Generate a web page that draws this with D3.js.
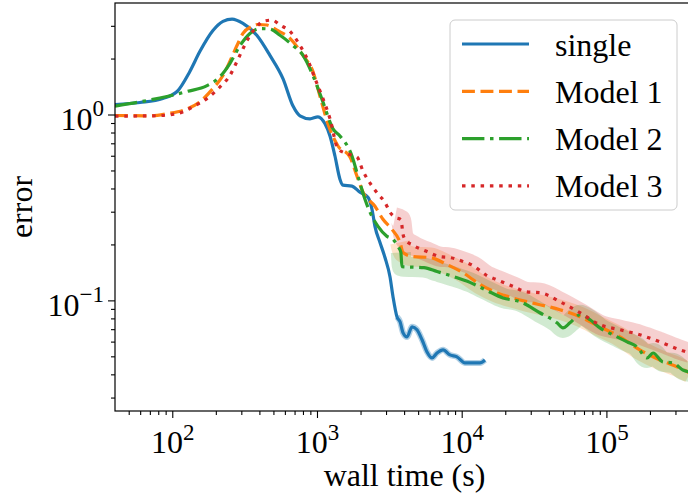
<!DOCTYPE html>
<html>
<head>
<meta charset="utf-8">
<script src="https://cdn.jsdelivr.net/npm/d3@7"></script>
<style>
body { margin: 0; background: #fff; }
text { font-family: "Liberation Serif", "DejaVu Serif", serif; }
</style>
</head>
<body>
<script>
// values (wall time in s, error)
var singleTime = [40.2, 59.8, 86, 108, 132, 155, 191, 224, 259, 308, 385, 473, 582, 683, 763, 895, 1016, 1136, 1230, 1331, 1441, 1512, 1745, 1980, 2250, 2400, 2515, 2725, 2950, 3195, 3350, 3570, 3750, 3935, 4190, 4540, 4910, 5320, 5760, 6240, 6750, 7430, 8300, 9270, 10520, 11960, 13370, 14480];
var singleErr = [1.13, 1.16, 1.22, 1.33, 1.70, 2.18, 2.83, 3.17, 3.26, 3.09, 2.66, 2.08, 1.56, 1.11, 0.984, 0.948, 0.972, 0.891, 0.767, 0.598, 0.449, 0.417, 0.412, 0.382, 0.359, 0.309, 0.250, 0.205, 0.170, 0.134, 0.105, 0.0816, 0.0767, 0.0669, 0.0636, 0.0721, 0.0695, 0.0614, 0.0528, 0.0490, 0.0521, 0.0542, 0.0509, 0.0497, 0.0461, 0.0461, 0.0461, 0.0478];

var model1Time = [40.2, 70.2, 91.9, 126, 155, 191, 224, 250, 280, 308, 356, 391, 451, 529, 651, 801, 938, 1050, 1191, 1397, 1690, 1888, 2080, 2515, 2857, 3296, 3750, 3935, 4615, 6045, 7900, 10190, 13370, 17500, 22640, 28200, 34660, 47700, 65700, 90200, 124000, 170000, 234000, 322000, 378000];
var model1Err = [0.988, 0.984, 1.01, 1.07, 1.17, 1.38, 1.62, 1.93, 2.35, 2.73, 2.98, 3.05, 3.03, 2.84, 2.57, 2.08, 1.70, 1.25, 0.89, 0.677, 0.591, 0.467, 0.382, 0.321, 0.273, 0.241, 0.205, 0.181, 0.172, 0.170, 0.156, 0.141, 0.122, 0.110, 0.103, 0.0984, 0.0948, 0.0891, 0.0816, 0.0721, 0.0637, 0.0542, 0.0478, 0.0433, 0.0406];

var model2Time = [40.2, 59.8, 91.9, 126, 174, 214, 250, 294, 344, 403, 473, 555, 683, 801, 938, 1099, 1290, 1441, 1745, 1918, 2146, 2324, 2640, 3045, 3350, 3630, 3800, 3865, 5480, 6750, 8850, 11400, 14950, 19300, 25300, 34660, 45600, 50100, 56000, 65700, 77100, 90200, 111000, 139000, 163000, 191000, 210000, 246000, 288000, 338000, 378000];
var model2Err = [1.11, 1.17, 1.25, 1.33, 1.43, 1.60, 1.88, 2.35, 2.73, 2.90, 2.88, 2.67, 2.35, 2.08, 1.62, 1.17, 0.837, 0.767, 0.598, 0.467, 0.350, 0.298, 0.250, 0.221, 0.213, 0.195, 0.181, 0.152, 0.150, 0.143, 0.134, 0.125, 0.113, 0.103, 0.0984, 0.0858, 0.0757, 0.0711, 0.0757, 0.0837, 0.0787, 0.0711, 0.0653, 0.0598, 0.0562, 0.0490, 0.0521, 0.0466, 0.0461, 0.0422, 0.0412];

var model3Time = [40.2, 73.6, 108, 139, 174, 214, 250, 280, 308, 344, 385, 423, 489, 555, 651, 763, 867, 969, 1081, 1230, 1397, 1640, 1888, 2080, 2400, 2640, 2950, 3195, 3460, 3800, 3935, 4065, 4615, 5760, 7080, 8300, 10190, 11960, 14950, 17500, 22640, 28200, 34660, 47700, 65700, 90200, 124000, 170000, 234000, 322000, 378000];
var model3Err = [0.980, 0.984, 1.01, 1.10, 1.22, 1.41, 1.62, 1.93, 2.26, 2.66, 2.98, 3.17, 3.22, 3.03, 2.80, 2.35, 1.95, 1.56, 1.26, 0.95, 0.653, 0.613, 0.591, 0.496, 0.412, 0.373, 0.337, 0.298, 0.280, 0.272, 0.226, 0.213, 0.198, 0.183, 0.172, 0.170, 0.162, 0.154, 0.136, 0.129, 0.119, 0.111, 0.110, 0.0984, 0.0858, 0.0740, 0.0695, 0.0653, 0.0598, 0.0542, 0.0521];

var seriesNames = ["single", "Model 1", "Model 2", "Model 3"];
var xMajor = [1e2, 1e3, 1e4, 1e5];
var xMinor = [50, 60, 70, 80, 90, 200, 300, 400, 500, 600, 700, 800, 900, 2000, 3000, 4000, 5000, 6000, 7000, 8000, 9000, 2e4, 3e4, 4e4, 5e4, 6e4, 7e4, 8e4, 9e4, 2e5, 3e5];
var yMajor = [0.1, 1];
var yMinor = [0.03, 0.04, 0.05, 0.06, 0.07, 0.08, 0.09, 0.2, 0.3, 0.4, 0.5, 0.6, 0.7, 0.8, 0.9, 2, 3];

var colors = ["#1f77b4", "#ff7f0e", "#2ca02c", "#d62728"];
var dashes = [null, "12.9,5.6", "22.4,5.6,3.5,5.6", "3.5,5.8"];
// where the noisy raw traces show, and how wide they look
var bandFrom = [3500, 3700, 3700, 3300];
var bandWidth = [6, 20, 20, 20];
var bandOpacity = [0.35, 0.22, 0.22, 0.22];

var series = [
  {name: seriesNames[0], pts: d3.zip(singleTime, singleErr)},
  {name: seriesNames[1], pts: d3.zip(model1Time, model1Err)},
  {name: seriesNames[2], pts: d3.zip(model2Time, model2Err)},
  {name: seriesNames[3], pts: d3.zip(model3Time, model3Err)}
];

var pL = 115, pR = 694, pT = 3, pB = 411;

var svg = d3.select("body").append("svg")
  .attr("width", 688)
  .attr("height", 504);

var x = d3.scaleLog().domain([40.2, 4.03e5]).range([pL, pR]);
var y = d3.scaleLog().domain([0.0254, 3.98]).range([pB, pT]);

svg.append("clipPath").attr("id", "plot")
  .append("rect").attr("x", pL).attr("y", pT).attr("width", pR - pL).attr("height", pB - pT);

var line = d3.line()
  .x(function(d) { return x(d[0]); })
  .y(function(d) { return y(d[1]); })
  .curve(d3.curveMonotoneX);

var plot = svg.append("g").attr("clip-path", "url(#plot)");

// the noisy raw runs behind the smoothed curves
series.forEach(function(s, i) {
  plot.append("path")
    .attr("d", line(s.pts.filter(function(d) { return d[0] >= bandFrom[i]; })))
    .attr("fill", "none")
    .attr("stroke", colors[i])
    .attr("stroke-opacity", bandOpacity[i])
    .attr("stroke-width", bandWidth[i])
    .attr("stroke-linejoin", "round");
});

series.forEach(function(s, i) {
  plot.append("path")
    .attr("d", line(s.pts))
    .attr("fill", "none")
    .attr("stroke", colors[i])
    .attr("stroke-width", 3.2)
    .attr("stroke-dasharray", dashes[i])
    .attr("stroke-linejoin", "round");
});

// axes
function expText(d) {
  return String(Math.round(Math.log10(d))).replace("-", "\u2212");
}

var gx = svg.append("g").attr("transform", "translate(0," + pB + ")");
gx.call(d3.axisBottom(x).tickValues(xMinor).tickSize(4).tickSizeOuter(0).tickFormat(""));
var gxMaj = svg.append("g").attr("transform", "translate(0," + pB + ")");
gxMaj.call(d3.axisBottom(x).tickValues(xMajor).tickSize(7).tickSizeOuter(0).tickFormat(""));
gxMaj.selectAll(".tick text").each(function(d) {
  var t = d3.select(this).attr("y", 42).attr("dy", null).attr("font-size", 32).attr("fill", "#000");
  t.append("tspan").text("10");
  t.append("tspan").attr("dy", -13).attr("font-size", 23).text(expText(d));
});

var gy = svg.append("g").attr("transform", "translate(" + pL + ",0)");
gy.call(d3.axisLeft(y).tickValues(yMinor).tickSize(4).tickSizeOuter(0).tickFormat(""));
var gyMaj = svg.append("g").attr("transform", "translate(" + pL + ",0)");
gyMaj.call(d3.axisLeft(y).tickValues(yMajor).tickSize(7).tickSizeOuter(0).tickFormat(""));
gyMaj.selectAll(".tick text").each(function(d) {
  var t = d3.select(this).attr("x", -11).attr("y", 15).attr("dy", null)
    .attr("font-size", 32).attr("fill", "#000");
  t.append("tspan").text("10");
  t.append("tspan").attr("dy", -14).attr("font-size", 23).text(expText(d));
});

svg.selectAll(".domain").remove();
svg.selectAll(".tick line").attr("stroke", "#000").attr("stroke-width", 1.1);

svg.append("rect")
  .attr("x", pL).attr("y", pT).attr("width", pR - pL).attr("height", pB - pT)
  .attr("fill", "none").attr("stroke", "#000").attr("stroke-width", 1.2);

svg.append("text").attr("x", (pL + pR) / 2).attr("y", 486)
  .attr("text-anchor", "middle").attr("font-size", 32).text("wall time (s)");
svg.append("text").attr("transform", "translate(32," + (pT + pB) / 2 + ") rotate(-90)")
  .attr("text-anchor", "middle").attr("font-size", 32).text("error");

// legend
var legend = svg.append("g");
legend.append("rect").attr("x", 450).attr("y", 20).attr("width", 227).attr("height", 190).attr("rx", 5)
  .attr("fill", "#fff").attr("fill-opacity", 0.8).attr("stroke", "#ccc").attr("stroke-width", 1);
series.forEach(function(s, i) {
  var ly = 44 + i * 47.3;
  legend.append("line").attr("x1", 462).attr("x2", 529).attr("y1", ly).attr("y2", ly)
    .attr("stroke", colors[i]).attr("stroke-width", 3.2).attr("stroke-dasharray", dashes[i]);
  legend.append("text").attr("x", 555).attr("y", ly + 11.5).attr("font-size", 32).text(s.name);
});
</script>
</body>
</html>
